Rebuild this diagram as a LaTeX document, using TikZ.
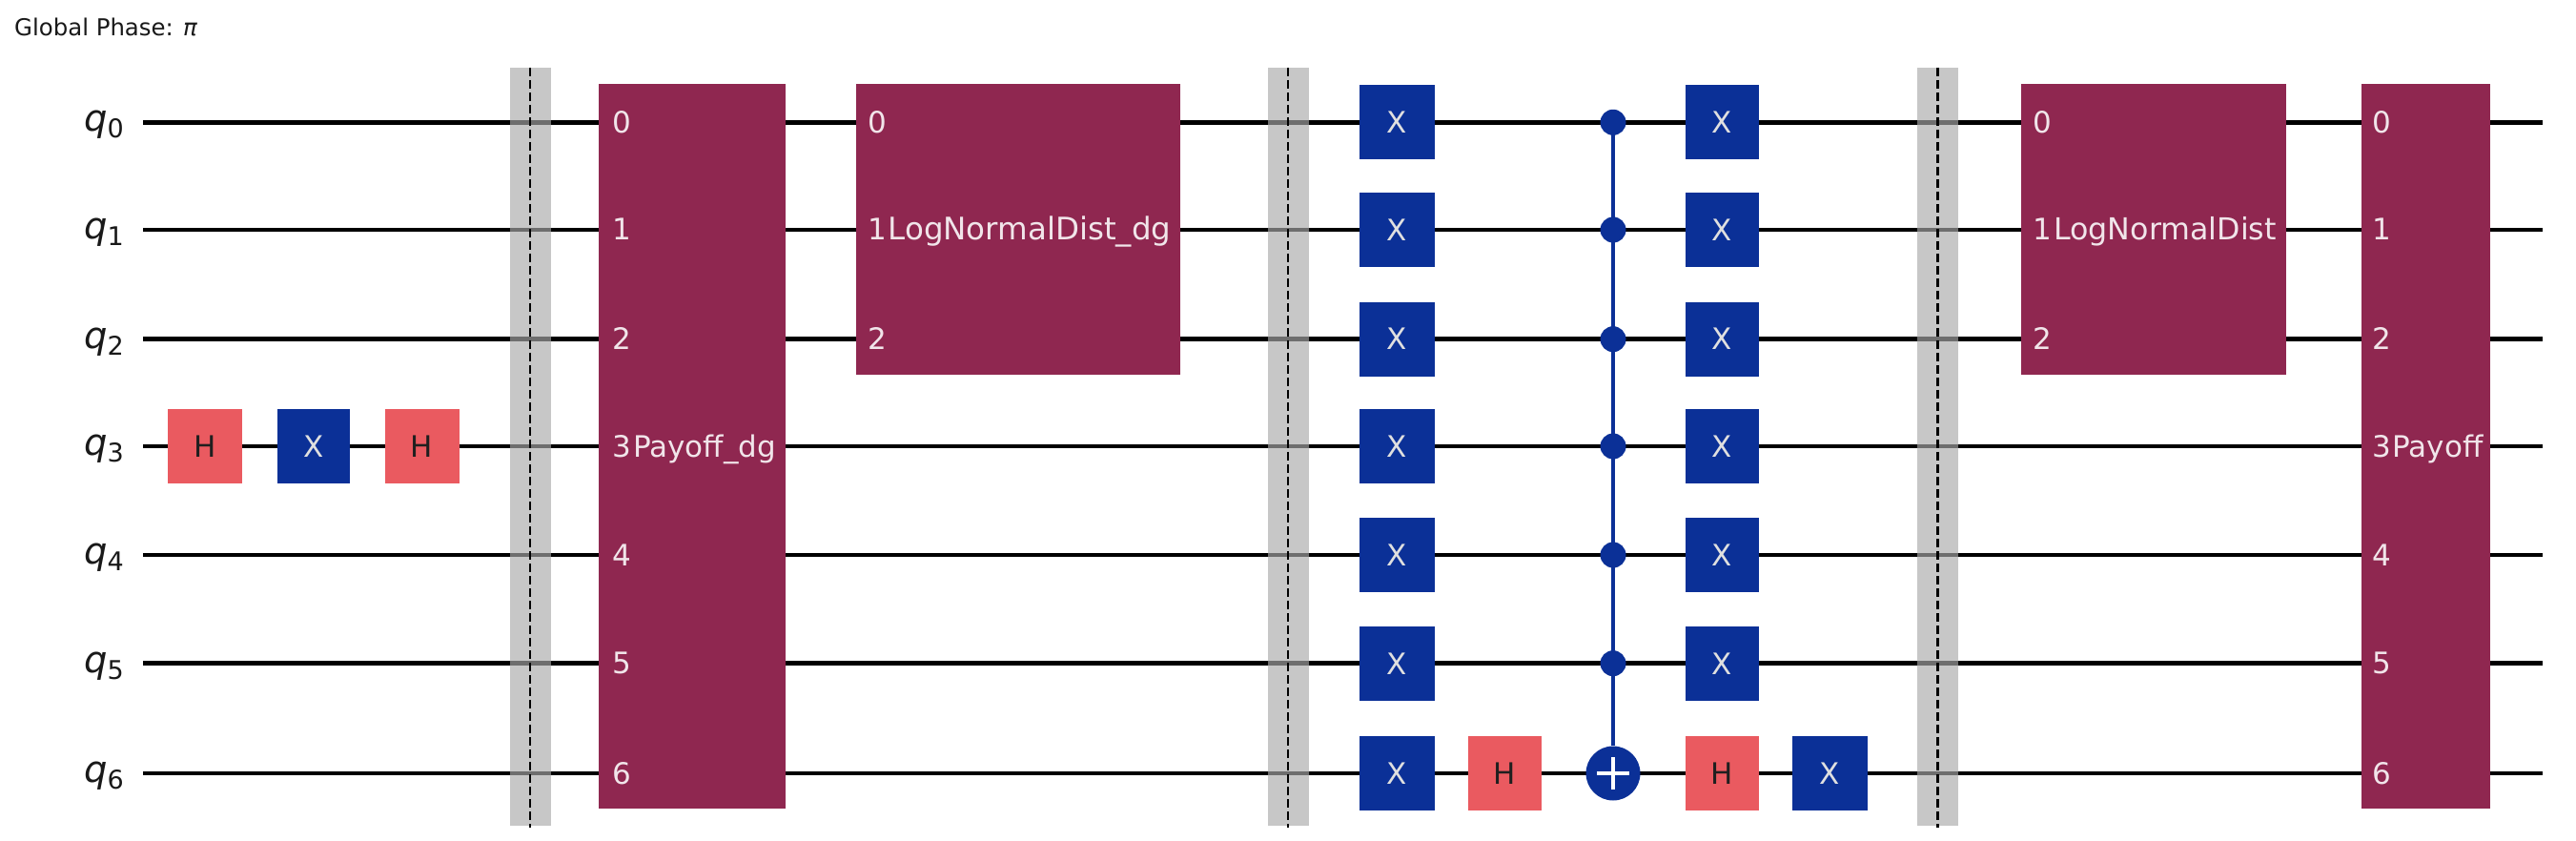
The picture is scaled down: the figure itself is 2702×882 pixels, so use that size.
\documentclass[tikz,border=0pt]{standalone}
\usepackage{fontspec}
\setmainfont{DejaVu Sans}
\newcommand{\gsize}[1]{\fontsize{#1}{#1}\selectfont}
\definecolor{wirec}{HTML}{000000}
\definecolor{xblue}{HTML}{0B3097}
\definecolor{hred}{HTML}{EA5A60}
\definecolor{cmaroon}{HTML}{8F2750}
\definecolor{bargrey}{HTML}{AAAAAA}
\tikzset{
  wire/.style={line width=4.5pt,draw=wirec},
  gate/.style={rectangle,inner sep=0pt,minimum width=#1,minimum height=78pt,font=\gsize{31}},
  gate/.default=78pt,
  xgate/.style={gate,fill=xblue,text=white!88!black},
  hgate/.style={gate,fill=hred,text=black!88!white},
  custom/.style={rectangle,inner sep=0pt,anchor=north west,fill=cmaroon},
  ctxt/.style={inner sep=0pt,text=white!88!cmaroon,font=\gsize{31},anchor=base},
  pin/.style={ctxt,anchor=base west},
  barrier/.style={rectangle,inner sep=0pt,fill=bargrey,fill opacity=.65,minimum width=43pt,minimum height=795pt},
  bdash/.style={line width=2.5pt,draw=black,dash pattern=on 9pt off 4pt},
  ctrl/.style={circle,inner sep=0pt,minimum size=27pt,fill=xblue},
  target/.style={circle,inner sep=0pt,minimum size=57pt,fill=xblue},
  conn/.style={line width=4.5pt,draw=xblue},
  qname/.style={inner sep=0pt,anchor=base west,text=black!90!white},
}
\begin{document}
\begin{tikzpicture}[x=1pt,y=-1pt]
\useasboundingbox (0,0) rectangle (2702,882);
\fill[white] (0,0) rectangle (2702,882);

\node[inner sep=0pt,anchor=base west,text=black!90!white,font=\gsize{24.4}] (phase) at (15,38) {Global Phase: \textit{π}};

% wires
\foreach \i/\y in {0/128.3,1/241,2/355.7,3/468,4/582,5/695.7,6/811}{
  \coordinate (ws\i) at (150,\y);
  \coordinate (we\i) at (2667,\y);
  \draw[wire] (ws\i) -- (we\i);
  \node[qname] (q\i) at (88,\y+9.5) {\gsize{38.5}\textit{q}\raisebox{-7pt}{\gsize{27}\i}};
}

% barriers
\foreach \n/\x in {1/556,2/1351,3/2032.5}{
  \node[barrier] (bar\n) at (\x,468.5) {};
  \coordinate (bt\n) at (\x,71);
  \coordinate (bb\n) at (\x,868);
  \draw[bdash] (bt\n) -- (bb\n);
}

% first section
\node[hgate] (h1) at (215,468) {H};
\node[xgate,minimum width=76.5pt] (x1) at (329,468) {X};
\node[hgate] (h2) at (442.5,468) {H};

% Payoff_dg
\node[custom,minimum width=196.5pt,minimum height=760pt] (pdg) at (627.5,88) {};
\foreach \i/\y in {0/128.3,1/241,2/355.7,3/468,4/582,5/695.7,6/811}{
  \node[pin] (pdg\i) at (642,\y+11) {\i};
}
\node[ctxt] (pdgname) at (739,479) {Payoff\_dg};

% LogNormalDist_dg
\node[custom,minimum width=340pt,minimum height=305pt] (ldg) at (897.5,88) {};
\foreach \i/\y in {0/128.3,1/241,2/355.7}{
  \node[pin] (ldg\i) at (910.5,\y+11) {\i};
}
\node[ctxt,font=\gsize{32.5}] (ldgname) at (1080,252) {LogNormalDist\_dg};

% X column 1
\foreach \i/\y in {0/128.3,1/241,2/355.7,3/468,4/582,5/695.7,6/811}{
  \node[xgate,minimum width=79pt] (xa\i) at (1465,\y) {X};
}
\node[hgate,minimum width=77pt] (hm) at (1578.5,811) {H};

% multi-controlled X
\foreach \i/\y in {0/128.3,1/241,2/355.7,3/468,4/582,5/695.7}{
  \node[ctrl] (c\i) at (1692,\y) {};
}
\node[target] (tg) at (1692,811) {};
\draw[conn] (c0.center) -- (tg.north);
\draw[white,line width=4.5pt] ([xshift=-17pt]tg.center) -- ([xshift=17pt]tg.center);
\draw[white,line width=4.5pt] ([yshift=-17pt]tg.center) -- ([yshift=17pt]tg.center);

% X column 2
\foreach \i/\y in {0/128.3,1/241,2/355.7,3/468,4/582,5/695.7}{
  \node[xgate,minimum width=77pt] (xb\i) at (1806,\y) {X};
}
\node[hgate,minimum width=77pt] (hn) at (1806,811) {H};
\node[xgate,minimum width=79pt] (xl) at (1919.5,811) {X};

% LogNormalDist
\node[custom,minimum width=278pt,minimum height=305pt] (ld) at (2120,88) {};
\foreach \i/\y in {0/128.3,1/241,2/355.7}{
  \node[pin] (ld\i) at (2132.5,\y+11) {\i};
}
\node[ctxt,font=\gsize{31.7}] (ldname) at (2271,252) {LogNormalDist};

% Payoff
\node[custom,minimum width=134.5pt,minimum height=760pt] (pf) at (2477,88) {};
\foreach \i/\y in {0/128.3,1/241,2/355.7,3/468,4/582,5/695.7,6/811}{
  \node[pin] (pf\i) at (2488,\y+11) {\i};
}
\node[ctxt] (pfname) at (2557,479) {Payoff};
\end{tikzpicture}
\end{document}
